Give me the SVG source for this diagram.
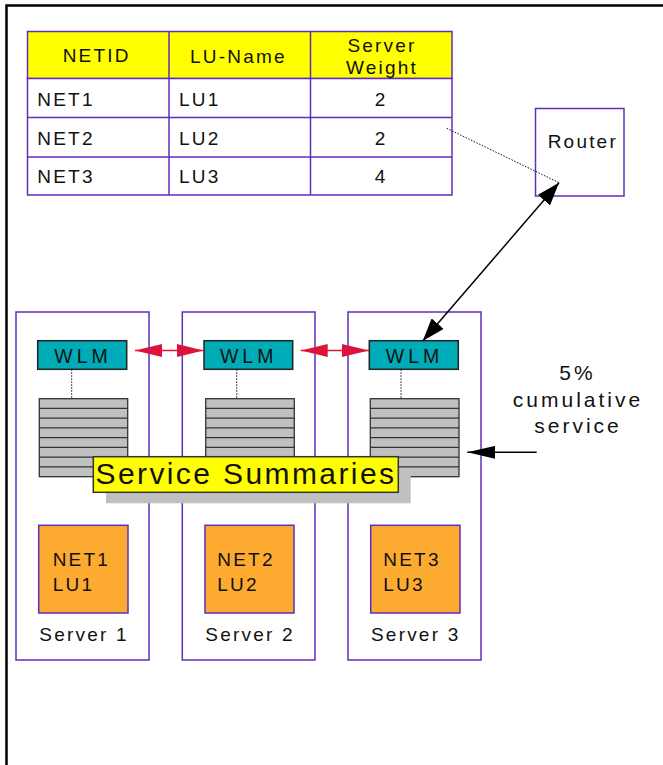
<svg xmlns="http://www.w3.org/2000/svg" width="663" height="765" viewBox="0 0 663 765">
<style>
text{font-family:"Liberation Sans",Arial,sans-serif;fill:#111;}
.t18{font-size:19px;letter-spacing:2.2px;}
.wlmt{font-size:19.5px;letter-spacing:4px;}
.big{font-size:30px;letter-spacing:2.4px;}
.t21{font-size:21px;letter-spacing:3px;}
.pb{fill:#fff;stroke:#5F2DC0;stroke-width:1.5;}
.pn{fill:none;stroke:#5F2DC0;stroke-width:1.5;}
.wlm{fill:#00ABB8;stroke:#222;stroke-width:1.5;}
.stk{fill:#C0C0C0;stroke:#333;stroke-width:1.3;}
.org{fill:#FDAA30;stroke:#5F2DC0;stroke-width:1.5;}
.dot{stroke:#111;stroke-width:1;stroke-dasharray:1.5,1.5;fill:none;}
</style>
<defs>
<marker id="blk" viewBox="0 0 23 16" refX="23" refY="8" markerWidth="23" markerHeight="16" markerUnits="userSpaceOnUse" orient="auto-start-reverse"><path d="M0,0 L23,8 L0,16 z" fill="#000"/></marker>
<marker id="red" viewBox="0 0 27 13" refX="27" refY="6.5" markerWidth="27" markerHeight="13" markerUnits="userSpaceOnUse" orient="auto-start-reverse"><path d="M0,0 L27,6.5 L0,13 z" fill="#DC143C"/></marker>
<marker id="blk2" viewBox="0 0 28 13" refX="28" refY="6.5" markerWidth="28" markerHeight="13" markerUnits="userSpaceOnUse" orient="auto"><path d="M0,0 L28,6.5 L0,13 z" fill="#000"/></marker>
</defs>
<rect x="0" y="0" width="663" height="765" fill="#fff"/>
<rect x="6.5" y="5.5" width="700" height="800" fill="none" stroke="#000" stroke-width="2.5"/>

<g id="table">
<rect x="27.5" y="31.5" width="424.5" height="47" fill="#FFFF00" stroke="#5F2DC0" stroke-width="1.5"/>
<rect x="27.5" y="78.5" width="424.5" height="116.5" class="pb"/>
<line x1="27.5" y1="117.5" x2="452" y2="117.5" class="pn"/>
<line x1="27.5" y1="157" x2="452" y2="157" class="pn"/>
<line x1="169" y1="31.5" x2="169" y2="195" class="pn"/>
<line x1="310.5" y1="31.5" x2="310.5" y2="195" class="pn"/>
<text class="t18" x="62.7" y="62">NETID</text>
<text class="t18" x="190" y="62.5">LU-Name</text>
<text class="t18" x="382" y="52" text-anchor="middle">Server</text>
<text class="t18" x="382" y="74" text-anchor="middle">Weight</text>
<text class="t18" x="37.3" y="106">NET1</text>
<text class="t18" x="179" y="106">LU1</text>
<text class="t18" x="381.1" y="106" text-anchor="middle">2</text>
<text class="t18" x="37.3" y="144.5">NET2</text>
<text class="t18" x="179" y="144.5">LU2</text>
<text class="t18" x="381.1" y="144.5" text-anchor="middle">2</text>
<text class="t18" x="37.3" y="183">NET3</text>
<text class="t18" x="179" y="183">LU3</text>
<text class="t18" x="381.1" y="183" text-anchor="middle">4</text>
</g>

<g id="router">
<rect x="535.5" y="108.5" width="88.5" height="87.5" class="pb"/>
<text class="t18" x="547.7" y="148">Router</text>
</g>

<g id="server1">
<rect x="16" y="312" width="133" height="348" class="pb"/>
<rect x="37.7" y="340.7" width="89" height="28.6" class="wlm"/>
<text class="wlmt" x="83" y="363" text-anchor="middle">WLM</text>
<line x1="71.7" y1="369.3" x2="71.7" y2="398.7" class="dot"/>
<g class="stk">
<rect x="39.3" y="398.7" width="88.4" height="78"/>
<path d="M39.3,408.45H127.7M39.3,418.2H127.7M39.3,427.95H127.7M39.3,437.7H127.7M39.3,447.45H127.7M39.3,457.2H127.7M39.3,466.95H127.7"/>
</g>
<rect x="38.7" y="525.3" width="89.3" height="87.7" class="org"/>
<text class="t18" x="52.7" y="565.5">NET1</text>
<text class="t18" x="52.7" y="591">LU1</text>
<text class="t18" x="39.3" y="640.5">Server 1</text>
</g>

<g id="server2">
<rect x="182.3" y="312" width="132.7" height="348" class="pb"/>
<rect x="204" y="340.7" width="88.7" height="28.6" class="wlm"/>
<text class="wlmt" x="248.7" y="363" text-anchor="middle">WLM</text>
<line x1="236.7" y1="369.3" x2="236.7" y2="398.7" class="dot"/>
<g class="stk">
<rect x="205.7" y="398.7" width="88.6" height="78"/>
<path d="M205.7,408.45H294.3M205.7,418.2H294.3M205.7,427.95H294.3M205.7,437.7H294.3M205.7,447.45H294.3M205.7,457.2H294.3M205.7,466.95H294.3"/>
</g>
<rect x="205" y="525.3" width="89" height="87.7" class="org"/>
<text class="t18" x="217.3" y="565.5">NET2</text>
<text class="t18" x="217.3" y="591">LU2</text>
<text class="t18" x="205.3" y="640.5">Server 2</text>
</g>

<g id="server3">
<rect x="348" y="312" width="133" height="348" class="pb"/>
<rect x="369.3" y="340.7" width="89" height="28.6" class="wlm"/>
<text class="wlmt" x="414.5" y="363" text-anchor="middle">WLM</text>
<line x1="401" y1="369.3" x2="401" y2="398.7" class="dot"/>
<g class="stk">
<rect x="370.3" y="398.7" width="88.7" height="78"/>
<path d="M370.3,408.45H459M370.3,418.2H459M370.3,427.95H459M370.3,437.7H459M370.3,447.45H459M370.3,457.2H459M370.3,466.95H459"/>
</g>
<rect x="370.7" y="525.3" width="89.3" height="87.7" class="org"/>
<text class="t18" x="383.3" y="565.5">NET3</text>
<text class="t18" x="383.3" y="591">LU3</text>
<text class="t18" x="371" y="640.5">Server 3</text>
</g>

<g id="summaries">
<rect x="106" y="468" width="304.7" height="35.3" fill="#C0C0C0"/>
<rect x="93.3" y="456.7" width="305" height="35.6" fill="#FFFF00" stroke="#333" stroke-width="1.5"/>
<text class="big" x="95.5" y="484">Service Summaries</text>
</g>

<g id="note">
<text class="t21" x="577.5" y="380" text-anchor="middle">5%</text>
<text class="t21" x="578" y="407.3" text-anchor="middle">cumulative</text>
<text class="t21" x="578" y="432.7" text-anchor="middle">service</text>
</g>

<g id="connectors">
<line x1="446.7" y1="128.3" x2="559" y2="182.7" class="dot"/>
<line x1="422.7" y1="341" x2="559" y2="182.7" stroke="#000" stroke-width="1.5" marker-start="url(#blk)" marker-end="url(#blk)"/>
<line x1="135" y1="350.5" x2="203.5" y2="350.5" stroke="#DC143C" stroke-width="1.5" marker-start="url(#red)" marker-end="url(#red)"/>
<line x1="300.7" y1="350.5" x2="369" y2="350.5" stroke="#DC143C" stroke-width="1.5" marker-start="url(#red)" marker-end="url(#red)"/>
<line x1="536.7" y1="452.3" x2="467.3" y2="452.3" stroke="#000" stroke-width="1.5" marker-end="url(#blk2)"/>
</g>
</svg>
